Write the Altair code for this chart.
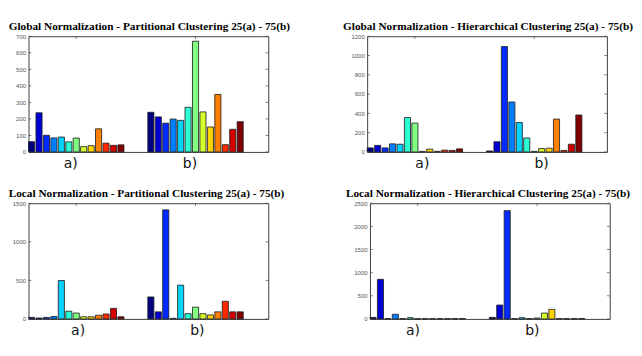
import altair as alt
import pandas as pd

groups = ["a)", "b)"]
series = list(range(1, 14))
jet = ["#000080", "#0000d4", "#002aff", "#0080ff", "#00d4ff", "#2affd4", "#80ff80",
       "#d4ff2a", "#ffd400", "#ff8000", "#ff2a00", "#d40000", "#800000"]

titles = [
    "Global Normalization - Partitional Clustering 25(a) - 75(b)",
    "Global Normalization - Hierarchical Clustering 25(a) - 75(b)",
    "Local Normalization - Partitional Clustering 25(a) - 75(b)",
    "Local Normalization - Hierarchical Clustering 25(a) - 75(b)",
]

p1_a = [62, 237, 101, 85, 90, 61, 84, 32, 38, 140, 53, 40, 43]
p1_b = [240, 212, 174, 199, 191, 270, 670, 242, 151, 348, 44, 137, 183]
p2_a = [42, 68, 42, 84, 80, 357, 299, 6, 29, 6, 19, 16, 32]
p2_b = [10, 106, 1093, 518, 305, 145, 6, 35, 39, 341, 16, 80, 383]
p3_a = [20, 12, 20, 32, 498, 100, 76, 28, 28, 48, 64, 137, 28]
p3_b = [285, 92, 1414, 8, 438, 68, 153, 68, 52, 92, 229, 92, 92]
p4_a = [33, 856, 7, 100, 7, 27, 7, 7, 7, 7, 7, 7, 7]
p4_b = [33, 300, 2340, 7, 27, 7, 20, 127, 207, 7, 7, 7, 7]

y_max = [700, 1200, 1500, 2500]
y_step = [100, 200, 500, 500]
label_dx = [-6, 8, 2, -5]
title_dx = [1, 1, -2, -2]

values = [(p1_a, p1_b), (p2_a, p2_b), (p3_a, p3_b), (p4_a, p4_b)]

W, H = 257, 124


def panel(title, va, vb, ymax, ystep, dx, tdx):
    df = pd.DataFrame({
        "group": [g for g in groups for _ in series],
        "series": series * 2,
        "value": va + vb,
    })
    tick_df = pd.DataFrame({"tick": list(range(0, ymax + 1, ystep))})
    grp_df = pd.DataFrame({"group": groups})
    xscale = alt.Scale(domain=groups, paddingInner=0.2, paddingOuter=0.105, align=0)
    yscale = alt.Scale(domain=[0, ymax], nice=False, zero=True)
    xaxis = alt.Axis(orient="bottom", title=None, labelAngle=0, domain=False,
                     ticks=False, labelFont="DejaVu Sans", labelFontSize=15,
                     labelColor="#111111", labelPadding=5, labelOffset=dx,
                     labelBaseline="top")
    yaxis = alt.Axis(orient="left", title=None, values=tick_df["tick"].tolist(),
                     format="d", domain=False, ticks=False,
                     labelFont="Liberation Sans", labelFontSize=6.5,
                     labelColor="#555555", labelPadding=3, grid=False)
    bars = alt.Chart(df).mark_bar(stroke="#222222", strokeWidth=0.9).encode(
        x=alt.X("group:N", scale=xscale, sort=groups, axis=xaxis),
        xOffset=alt.XOffset("series:O", scale=alt.Scale(domain=series, paddingInner=0.18)),
        y=alt.Y("value:Q", scale=yscale, axis=yaxis),
        color=alt.Color("series:O", scale=alt.Scale(domain=series, range=jet), legend=None),
    )
    left_ticks = alt.Chart(tick_df).mark_tick(color="#444444", thickness=1, size=3).encode(
        y=alt.Y("tick:Q", scale=yscale, axis=yaxis),
        x=alt.value(1.5),
    )
    right_ticks = alt.Chart(tick_df).mark_tick(color="#444444", thickness=1, size=3).encode(
        y=alt.Y("tick:Q", scale=yscale, axis=yaxis),
        x=alt.value(W - 1.5),
    )
    top_ticks = alt.Chart(grp_df).mark_tick(color="#444444", thickness=1, size=3,
                                            orient="vertical").encode(
        x=alt.X("group:N", scale=xscale, sort=groups, axis=xaxis),
        y=alt.value(1.5),
    )
    return alt.layer(bars, left_ticks, right_ticks, top_ticks).properties(
        width=W, height=H,
        title=alt.Title(title, baseline="alphabetic", offset=-8, dx=tdx),
    )


panels = [panel(titles[i], values[i][0], values[i][1], y_max[i], y_step[i],
                label_dx[i], title_dx[i])
          for i in range(4)]

row1 = alt.hconcat(panels[0], panels[1], spacing=55)
row2 = alt.hconcat(panels[2], panels[3], spacing=64)
chart = alt.vconcat(row1, row2, spacing=16).properties(
    padding=0
).configure_view(stroke="#333333", strokeWidth=1).configure_title(
    font="Liberation Serif", fontSize=12.1, fontWeight="bold", color="#000000", anchor="middle"
)

chart.save("out.html", embed_options={"renderer": "svg", "actions": False})
